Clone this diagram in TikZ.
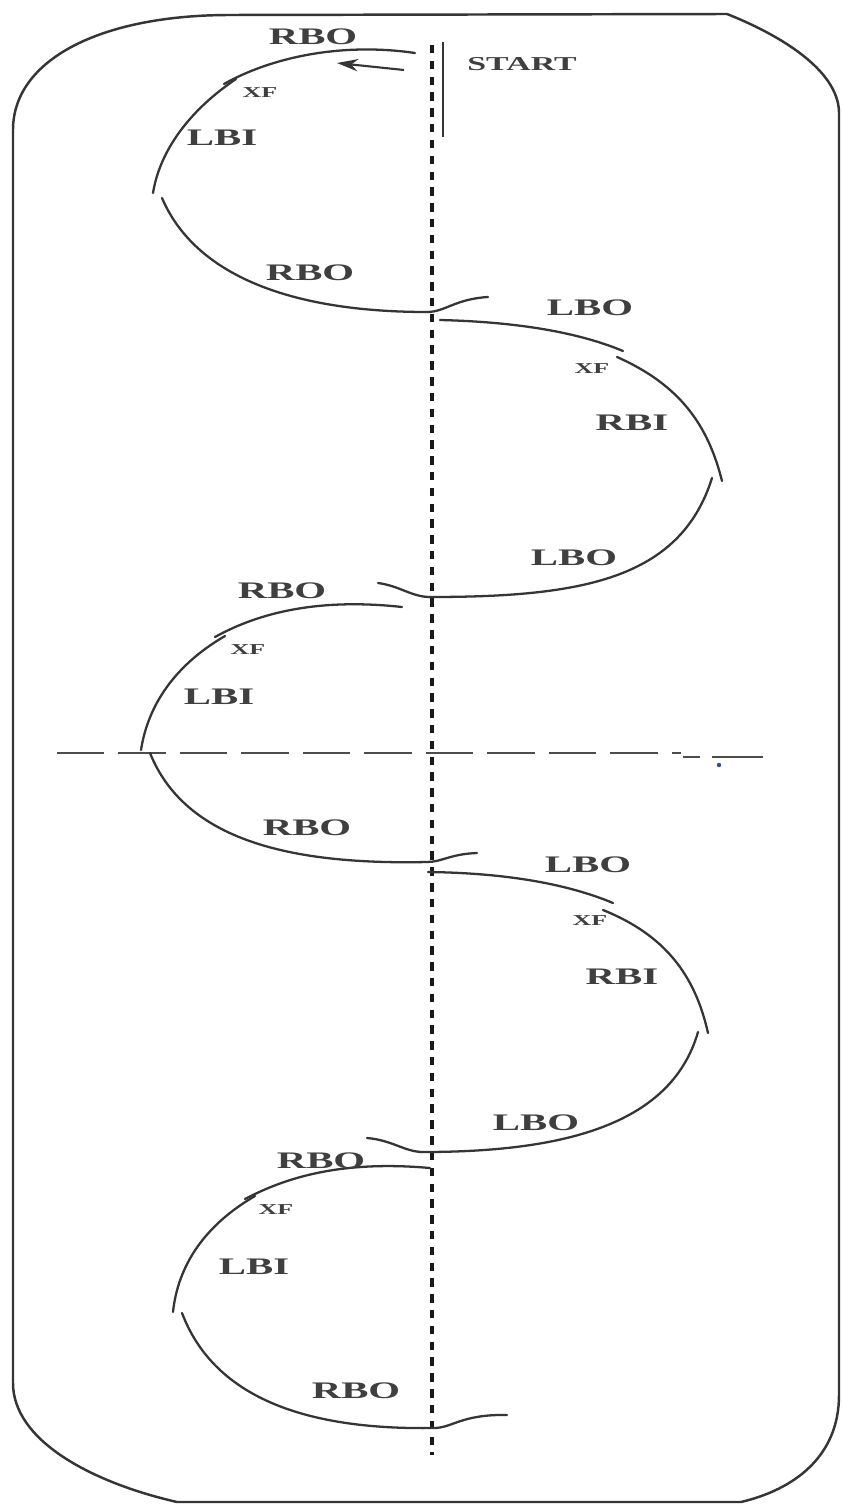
\documentclass[tikz,border=0pt]{standalone}
\usepackage{fontspec}
\setmainfont{Liberation Serif}
\usepackage{graphicx}
\usetikzlibrary{arrows.meta}
\definecolor{ink}{HTML}{353535}
\definecolor{labelgray}{HTML}{3F3F3F}
\definecolor{dotblue}{HTML}{3A46A8}
\newcommand{\sx}[1]{\scalebox{1.72}[1]{\bfseries #1}}
\tikzset{
  border/.style={draw=ink, line width=1.4pt},
  path/.style={draw=ink, line width=1.3pt, line cap=round},
  axisv/.style={draw=black!90, line width=2.2pt, dash pattern=on 4.8pt off 4.2pt},
  axish/.style={draw=black!70, line width=1.1pt, dash pattern=on 27pt off 8pt},
  biglbl/.style={text=labelgray, inner sep=0pt, font=\fontsize{13.5}{14}\selectfont},
  midlbl/.style={text=labelgray, inner sep=0pt, font=\fontsize{11.2}{12}\selectfont},
  smalllbl/.style={text=labelgray, inner sep=0pt, font=\fontsize{8.6}{9}\selectfont},
}
\begin{document}
\begin{tikzpicture}[x=0.02cm,y=-0.02cm]
\useasboundingbox (0,0) rectangle (842,1504);
\fill[white] (0,0) rectangle (842,1504);

% outer border
\draw[border] (230,15) -- (727,14)
  .. controls (780,35) and (838,70) .. (839,112)
  -- (839,1395)
  .. controls (839,1458) and (792,1490) .. (741,1502)
  -- (177,1502)
  .. controls (90,1482) and (13,1440) .. (13,1383)
  -- (13,130)
  .. controls (13,60) and (100,15) .. (230,15) -- cycle;

% axes
\coordinate (vtop) at (432,45);
\coordinate (vbot) at (432,1455);
\draw[axisv] (vtop) -- (vbot);
\coordinate (hl) at (57,753);
\coordinate (hr) at (681,753);
\draw[axish] (hl) -- (hr);
\coordinate (h1a) at (683,757); \coordinate (h1b) at (700,757);
\coordinate (h2a) at (712,757); \coordinate (h2b) at (763,757);
\draw[draw=black!70, line width=1.1pt] (h1a) -- (h1b);
\draw[draw=black!70, line width=1.1pt] (h2a) -- (h2b);
\fill[dotblue] (719,765) circle (2.2);

% START bar and arrow
\coordinate (s1) at (443,42);
\coordinate (s2) at (443,137);
\draw[draw=ink, line width=1.5pt] (s1) -- (s2);
\coordinate (a1) at (404,70);
\coordinate (a2) at (337,63);
\draw[draw=ink, line width=1.2pt, -{Stealth[length=12pt,width=7pt]}] (a1) -- (a2);

% loop 1 (left, top)
\draw[path] (415,53) .. controls (340,42) and (270,58) .. (224,84);
\draw[path] (236,79) .. controls (190,110) and (160,150) .. (153,193);
\draw[path] (162,198) .. controls (195,275) and (290,312) .. (427,312);
\draw[path] (427,312) .. controls (445,312) and (455,299) .. (488,297);

% loop 2 (right, top)
\draw[path] (440,320) .. controls (520,322) and (580,333) .. (623,351);
\draw[path] (617,357) .. controls (680,385) and (708,425) .. (722,481);
\draw[path] (712,478) .. controls (680,580) and (580,597) .. (430,597);
\draw[path] (430,597) .. controls (412,597) and (400,586) .. (378,583);

% loop 3 (left, middle)
\draw[path] (402,607) .. controls (320,598) and (260,612) .. (215,637);
\draw[path] (225,636) .. controls (175,665) and (148,705) .. (141,750);
\draw[path] (150,753) .. controls (185,840) and (290,865) .. (427,862);
\draw[path] (427,862) .. controls (442,862) and (450,854) .. (477,853);

% loop 4 (right, lower)
\draw[path] (428,872) .. controls (510,873) and (570,885) .. (613,903);
\draw[path] (603,910) .. controls (665,935) and (695,975) .. (708,1033);
\draw[path] (698,1032) .. controls (672,1122) and (570,1152) .. (423,1152);
\draw[path] (423,1152) .. controls (405,1152) and (392,1140) .. (367,1138);

% loop 5 (left, bottom)
\draw[path] (430,1168) .. controls (340,1160) and (285,1178) .. (245,1199);
\draw[path] (255,1196) .. controls (205,1225) and (178,1265) .. (173,1312);
\draw[path] (182,1313) .. controls (215,1400) and (310,1430) .. (434,1428);
\draw[path] (434,1428) .. controls (452,1428) and (462,1414) .. (507,1415);

% labels
\node[biglbl] (l1) at (313,37) {\sx{RBO}};
\node[midlbl] (start) at (522,64) {\sx{START}};
\node[smalllbl] (x1) at (260,93) {\sx{XF}};
\node[biglbl] (l2) at (222,138) {\sx{LBI}};
\node[biglbl] (l3) at (310,273) {\sx{RBO}};
\node[biglbl] (l4) at (590,308) {\sx{LBO}};
\node[smalllbl] (x2) at (592,369) {\sx{XF}};
\node[biglbl] (l5) at (632,423) {\sx{RBI}};
\node[biglbl] (l6) at (574,558) {\sx{LBO}};
\node[biglbl] (l7) at (282,591) {\sx{RBO}};
\node[smalllbl] (x3) at (248,650) {\sx{XF}};
\node[biglbl] (l8) at (219,697) {\sx{LBI}};
\node[biglbl] (l9) at (307,828) {\sx{RBO}};
\node[biglbl] (l10) at (588,865) {\sx{LBO}};
\node[smalllbl] (x4) at (590,921) {\sx{XF}};
\node[biglbl] (l11) at (622,977) {\sx{RBI}};
\node[biglbl] (l12) at (536,1123) {\sx{LBO}};
\node[biglbl] (l13) at (321,1161) {\sx{RBO}};
\node[smalllbl] (x5) at (276,1210) {\sx{XF}};
\node[biglbl] (l14) at (254,1267) {\sx{LBI}};
\node[biglbl] (l15) at (356,1391) {\sx{RBO}};
\end{tikzpicture}
\end{document}
